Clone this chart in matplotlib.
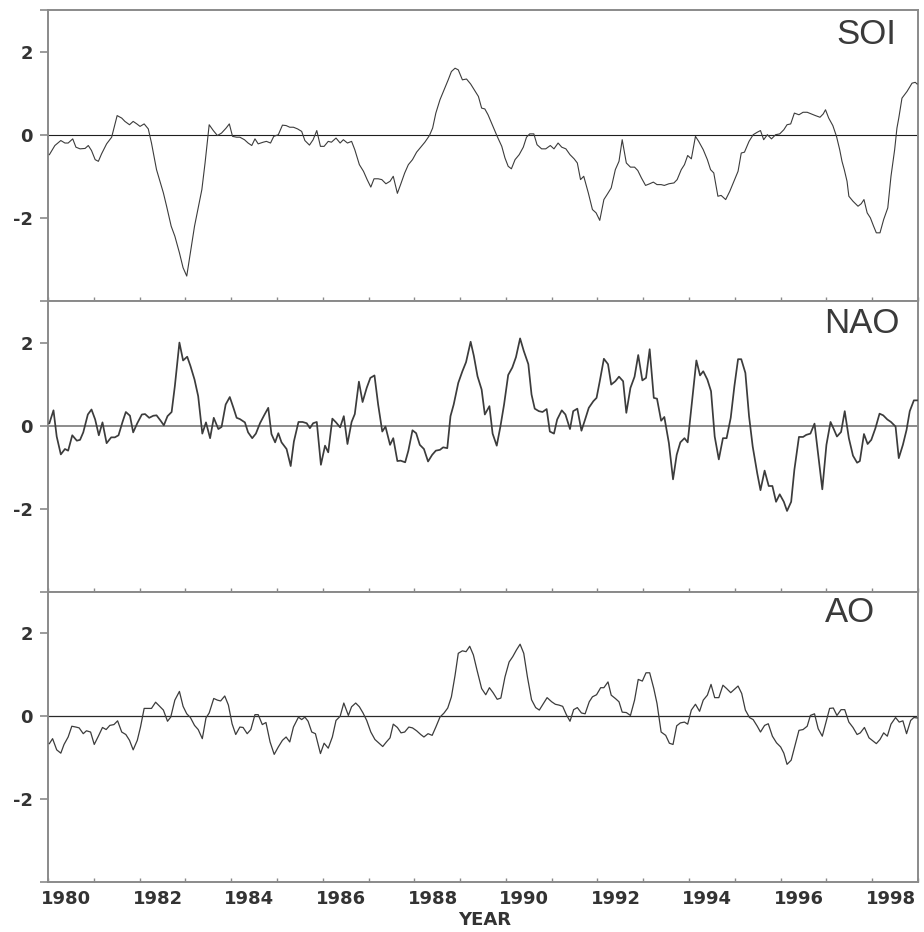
import matplotlib
matplotlib.use('Agg')
import matplotlib.pyplot as plt
import numpy as np

# ---- data (decimal year, index value) ----
SOI_YEAR = [
    1980.03, 1980.15, 1980.28, 1980.37, 1980.44, 1980.54, 1980.61, 1980.70, 1980.81, 1980.88,
    1980.95, 1981.03, 1981.10, 1981.17, 1981.28, 1981.39, 1981.46, 1981.51, 1981.61, 1981.68,
    1981.78, 1981.86, 1981.94, 1982.01, 1982.10, 1982.19, 1982.26, 1982.37, 1982.52, 1982.59,
    1982.69, 1982.77, 1982.87, 1982.95, 1983.03, 1983.11, 1983.20, 1983.28, 1983.36, 1983.43,
    1983.52, 1983.61, 1983.70, 1983.79, 1983.89, 1983.96, 1984.03, 1984.12, 1984.19, 1984.29,
    1984.37, 1984.45, 1984.52, 1984.59, 1984.70, 1984.77, 1984.86, 1984.93, 1985.03, 1985.12,
    1985.20, 1985.28, 1985.36, 1985.45, 1985.54, 1985.61, 1985.71, 1985.79, 1985.87, 1985.95,
    1986.03, 1986.12, 1986.19, 1986.29, 1986.38, 1986.45, 1986.54, 1986.63, 1986.70, 1986.80,
    1986.89, 1986.97, 1987.05, 1987.12, 1987.21, 1987.29, 1987.38, 1987.47, 1987.54, 1987.63,
    1987.70, 1987.79, 1987.87, 1987.96, 1988.05, 1988.14, 1988.23, 1988.33, 1988.40, 1988.47,
    1988.56, 1988.65, 1988.74, 1988.81, 1988.89, 1988.96, 1989.05, 1989.14, 1989.23, 1989.32,
    1989.40, 1989.47, 1989.54, 1989.61, 1989.71, 1989.81, 1989.91, 1989.98, 1990.05, 1990.12,
    1990.20, 1990.29, 1990.38, 1990.45, 1990.52, 1990.61, 1990.68, 1990.78, 1990.87, 1990.97,
    1991.05, 1991.14, 1991.22, 1991.31, 1991.40, 1991.49, 1991.56, 1991.63, 1991.70, 1991.80,
    1991.89, 1991.97, 1992.05, 1992.14, 1992.21, 1992.30, 1992.39, 1992.47, 1992.54, 1992.63,
    1992.72, 1992.81, 1992.88, 1992.96, 1993.05, 1993.14, 1993.22, 1993.30, 1993.39, 1993.46,
    1993.56, 1993.67, 1993.74, 1993.83, 1993.90, 1993.97, 1994.05, 1994.14, 1994.21, 1994.31,
    1994.40, 1994.47, 1994.54, 1994.63, 1994.70, 1994.80, 1994.89, 1994.98, 1995.07, 1995.14,
    1995.21, 1995.31, 1995.40, 1995.49, 1995.56, 1995.63, 1995.71, 1995.80, 1995.89, 1995.98,
    1996.07, 1996.14, 1996.22, 1996.30, 1996.40, 1996.49, 1996.58, 1996.67, 1996.76, 1996.86,
    1996.93, 1996.98, 1997.05, 1997.14, 1997.22, 1997.29, 1997.34, 1997.39, 1997.45, 1997.49,
    1997.58, 1997.69, 1997.76, 1997.82, 1997.89, 1997.96, 1998.03, 1998.09, 1998.17, 1998.25,
    1998.34, 1998.41, 1998.49, 1998.54, 1998.58, 1998.65, 1998.76, 1998.87, 1998.94, 1998.98,
]
SOI_VAL = [
    -0.48, -0.26, -0.14, -0.20, -0.20, -0.10, -0.30, -0.34, -0.33, -0.26,
    -0.38, -0.60, -0.64, -0.46, -0.22, -0.06, 0.24, 0.46, 0.40, 0.32,
    0.24, 0.32, 0.26, 0.20, 0.26, 0.14, -0.20, -0.84, -1.40, -1.72,
    -2.20, -2.44, -2.84, -3.20, -3.40, -2.84, -2.20, -1.76, -1.32, -0.68,
    0.24, 0.10, -0.02, 0.04, 0.16, 0.26, -0.04, -0.06, -0.06, -0.12,
    -0.20, -0.26, -0.10, -0.22, -0.18, -0.16, -0.20, -0.04, 0.00, 0.23,
    0.22, 0.18, 0.18, 0.14, 0.08, -0.14, -0.25, -0.12, 0.10, -0.28,
    -0.28, -0.16, -0.18, -0.08, -0.20, -0.12, -0.20, -0.16, -0.36, -0.72,
    -0.88, -1.08, -1.26, -1.06, -1.06, -1.08, -1.18, -1.12, -1.00, -1.41,
    -1.20, -0.92, -0.72, -0.60, -0.42, -0.30, -0.18, -0.02, 0.16, 0.52,
    0.84, 1.08, 1.32, 1.52, 1.60, 1.56, 1.32, 1.34, 1.22, 1.06,
    0.92, 0.64, 0.62, 0.48, 0.22, -0.04, -0.28, -0.56, -0.76, -0.82,
    -0.60, -0.48, -0.30, -0.06, 0.02, 0.02, -0.24, -0.34, -0.34, -0.26,
    -0.34, -0.20, -0.30, -0.34, -0.48, -0.58, -0.68, -1.08, -1.00, -1.40,
    -1.80, -1.88, -2.06, -1.56, -1.44, -1.28, -0.84, -0.64, -0.12, -0.68,
    -0.78, -0.78, -0.86, -1.04, -1.22, -1.18, -1.14, -1.20, -1.20, -1.22,
    -1.18, -1.16, -1.08, -0.84, -0.72, -0.50, -0.58, -0.04, -0.16, -0.36,
    -0.60, -0.84, -0.92, -1.48, -1.46, -1.56, -1.36, -1.12, -0.88, -0.44,
    -0.42, -0.16, 0.00, 0.06, 0.10, -0.12, 0.00, -0.10, 0.00, 0.02,
    0.12, 0.24, 0.26, 0.52, 0.48, 0.54, 0.54, 0.50, 0.46, 0.42,
    0.50, 0.60, 0.40, 0.22, -0.04, -0.36, -0.64, -0.84, -1.12, -1.48,
    -1.60, -1.72, -1.66, -1.56, -1.88, -2.00, -2.20, -2.36, -2.36, -2.04,
    -1.76, -1.00, -0.36, 0.16, 0.40, 0.88, 1.04, 1.24, 1.26, 1.22,
]

NAO_YEAR = [
    1980.03, 1980.12, 1980.19, 1980.28, 1980.37, 1980.44, 1980.53, 1980.63, 1980.70, 1980.77,
    1980.87, 1980.95, 1981.03, 1981.11, 1981.19, 1981.28, 1981.38, 1981.46, 1981.54, 1981.63,
    1981.70, 1981.79, 1981.86, 1981.95, 1982.05, 1982.12, 1982.21, 1982.30, 1982.37, 1982.46,
    1982.53, 1982.61, 1982.70, 1982.77, 1982.87, 1982.95, 1983.04, 1983.11, 1983.20, 1983.28,
    1983.37, 1983.45, 1983.54, 1983.62, 1983.72, 1983.79, 1983.88, 1983.97, 1984.05, 1984.12,
    1984.19, 1984.30, 1984.37, 1984.46, 1984.54, 1984.63, 1984.72, 1984.81, 1984.88, 1984.96,
    1985.03, 1985.10, 1985.21, 1985.30, 1985.37, 1985.47, 1985.56, 1985.65, 1985.72, 1985.79,
    1985.87, 1985.96, 1986.05, 1986.12, 1986.21, 1986.29, 1986.38, 1986.46, 1986.54, 1986.63,
    1986.70, 1986.79, 1986.87, 1986.96, 1987.04, 1987.13, 1987.21, 1987.30, 1987.37, 1987.47,
    1987.54, 1987.63, 1987.70, 1987.80, 1987.87, 1987.96, 1988.04, 1988.12, 1988.21, 1988.30,
    1988.39, 1988.47, 1988.56, 1988.63, 1988.72, 1988.79, 1988.86, 1988.96, 1989.05, 1989.13,
    1989.23, 1989.30, 1989.38, 1989.47, 1989.54, 1989.64, 1989.71, 1989.80, 1989.88, 1989.96,
    1990.05, 1990.14, 1990.22, 1990.31, 1990.39, 1990.49, 1990.56, 1990.63, 1990.72, 1990.80,
    1990.89, 1990.96, 1991.05, 1991.12, 1991.22, 1991.30, 1991.40, 1991.47, 1991.56, 1991.65,
    1991.73, 1991.81, 1991.91, 1991.98, 1992.05, 1992.14, 1992.23, 1992.30, 1992.39, 1992.47,
    1992.56, 1992.63, 1992.72, 1992.81, 1992.89, 1992.98, 1993.06, 1993.14, 1993.23, 1993.30,
    1993.39, 1993.46, 1993.56, 1993.65, 1993.73, 1993.81, 1993.90, 1993.97, 1994.07, 1994.16,
    1994.24, 1994.31, 1994.40, 1994.48, 1994.56, 1994.65, 1994.74, 1994.82, 1994.91, 1994.99,
    1995.07, 1995.14, 1995.23, 1995.31, 1995.39, 1995.49, 1995.56, 1995.65, 1995.74, 1995.82,
    1995.90, 1995.98, 1996.07, 1996.14, 1996.23, 1996.30, 1996.40, 1996.49, 1996.56, 1996.65,
    1996.74, 1996.82, 1996.91, 1997.00, 1997.09, 1997.16, 1997.23, 1997.32, 1997.40, 1997.49,
    1997.58, 1997.67, 1997.73, 1997.82, 1997.90, 1997.98, 1998.07, 1998.16, 1998.24, 1998.33,
    1998.41, 1998.51, 1998.58, 1998.67, 1998.75, 1998.82, 1998.91, 1998.98,
]
NAO_VAL = [
    0.06, 0.37, -0.26, -0.69, -0.56, -0.60, -0.23, -0.36, -0.34, -0.16,
    0.27, 0.39, 0.15, -0.23, 0.08, -0.42, -0.28, -0.28, -0.23, 0.10,
    0.33, 0.24, -0.16, 0.06, 0.27, 0.28, 0.19, 0.24, 0.25, 0.12,
    0.01, 0.23, 0.33, 0.95, 2.00, 1.57, 1.66, 1.44, 1.11, 0.71,
    -0.19, 0.08, -0.30, 0.19, -0.08, -0.03, 0.51, 0.69, 0.43, 0.19,
    0.16, 0.08, -0.16, -0.30, -0.19, 0.06, 0.25, 0.43, -0.20, -0.40,
    -0.18, -0.40, -0.56, -0.97, -0.38, 0.09, 0.09, 0.06, -0.06, 0.06,
    0.09, -0.94, -0.48, -0.64, 0.17, 0.08, -0.04, 0.23, -0.44, 0.09,
    0.28, 1.06, 0.57, 0.91, 1.15, 1.21, 0.51, -0.14, -0.02, -0.46,
    -0.30, -0.85, -0.84, -0.88, -0.60, -0.11, -0.18, -0.46, -0.56, -0.86,
    -0.70, -0.60, -0.58, -0.52, -0.54, 0.23, 0.51, 1.03, 1.31, 1.53,
    2.02, 1.68, 1.19, 0.87, 0.27, 0.47, -0.19, -0.48, -0.02, 0.51,
    1.22, 1.40, 1.65, 2.10, 1.80, 1.48, 0.75, 0.41, 0.35, 0.33,
    0.40, -0.14, -0.19, 0.15, 0.37, 0.27, -0.08, 0.35, 0.41, -0.12,
    0.15, 0.43, 0.59, 0.67, 1.07, 1.61, 1.48, 0.99, 1.07, 1.18,
    1.07, 0.31, 0.91, 1.18, 1.70, 1.09, 1.15, 1.84, 0.67, 0.65,
    0.12, 0.21, -0.42, -1.29, -0.70, -0.40, -0.30, -0.40, 0.63, 1.57,
    1.21, 1.31, 1.11, 0.83, -0.26, -0.81, -0.30, -0.30, 0.19, 0.95,
    1.60, 1.60, 1.27, 0.23, -0.50, -1.15, -1.55, -1.08, -1.45, -1.45,
    -1.83, -1.65, -1.83, -2.05, -1.83, -1.06, -0.27, -0.27, -0.22, -0.19,
    0.05, -0.70, -1.53, -0.46, 0.09, -0.08, -0.26, -0.15, 0.35, -0.30,
    -0.72, -0.89, -0.85, -0.20, -0.44, -0.34, -0.06, 0.29, 0.25, 0.15,
    0.09, -0.02, -0.78, -0.46, -0.10, 0.35, 0.61, 0.61,
]

AO_YEAR = [
    1980.03, 1980.10, 1980.19, 1980.28, 1980.35, 1980.44, 1980.52, 1980.61, 1980.68, 1980.77,
    1980.84, 1980.93, 1981.01, 1981.10, 1981.19, 1981.27, 1981.35, 1981.44, 1981.52, 1981.61,
    1981.70, 1981.78, 1981.86, 1981.95, 1982.02, 1982.10, 1982.19, 1982.26, 1982.35, 1982.43,
    1982.52, 1982.61, 1982.68, 1982.77, 1982.87, 1982.95, 1983.03, 1983.11, 1983.20, 1983.28,
    1983.37, 1983.45, 1983.52, 1983.62, 1983.70, 1983.77, 1983.86, 1983.94, 1984.02, 1984.10,
    1984.19, 1984.26, 1984.35, 1984.43, 1984.52, 1984.59, 1984.68, 1984.76, 1984.85, 1984.94,
    1985.03, 1985.12, 1985.20, 1985.28, 1985.36, 1985.47, 1985.54, 1985.61, 1985.68, 1985.76,
    1985.84, 1985.95, 1986.03, 1986.12, 1986.21, 1986.29, 1986.38, 1986.46, 1986.56, 1986.63,
    1986.72, 1986.80, 1986.88, 1986.96, 1987.05, 1987.14, 1987.23, 1987.31, 1987.39, 1987.47,
    1987.54, 1987.63, 1987.71, 1987.79, 1987.88, 1987.96, 1988.05, 1988.14, 1988.21, 1988.30,
    1988.39, 1988.47, 1988.56, 1988.65, 1988.73, 1988.81, 1988.89, 1988.96, 1989.05, 1989.13,
    1989.21, 1989.29, 1989.37, 1989.47, 1989.56, 1989.64, 1989.72, 1989.81, 1989.89, 1989.98,
    1990.07, 1990.15, 1990.23, 1990.31, 1990.39, 1990.47, 1990.56, 1990.65, 1990.73, 1990.82,
    1990.90, 1991.00, 1991.08, 1991.16, 1991.24, 1991.32, 1991.40, 1991.48, 1991.56, 1991.65,
    1991.73, 1991.82, 1991.89, 1991.98, 1992.07, 1992.14, 1992.23, 1992.30, 1992.39, 1992.47,
    1992.54, 1992.63, 1992.72, 1992.81, 1992.89, 1992.98, 1993.06, 1993.14, 1993.23, 1993.30,
    1993.39, 1993.49, 1993.57, 1993.65, 1993.73, 1993.81, 1993.90, 1993.97, 1994.05, 1994.14,
    1994.23, 1994.31, 1994.40, 1994.48, 1994.56, 1994.65, 1994.74, 1994.82, 1994.91, 1994.99,
    1995.07, 1995.15, 1995.23, 1995.32, 1995.40, 1995.49, 1995.56, 1995.65, 1995.73, 1995.82,
    1995.91, 1996.00, 1996.07, 1996.14, 1996.23, 1996.31, 1996.40, 1996.49, 1996.58, 1996.65,
    1996.74, 1996.82, 1996.91, 1996.99, 1997.07, 1997.15, 1997.23, 1997.32, 1997.40, 1997.49,
    1997.58, 1997.67, 1997.74, 1997.83, 1997.93, 1998.00, 1998.09, 1998.17, 1998.25, 1998.33,
    1998.41, 1998.51, 1998.59, 1998.67, 1998.75, 1998.84, 1998.91, 1998.98,
]
AO_VAL = [
    -0.66, -0.54, -0.81, -0.89, -0.68, -0.50, -0.24, -0.26, -0.28, -0.42,
    -0.35, -0.38, -0.68, -0.48, -0.27, -0.32, -0.22, -0.20, -0.11, -0.38,
    -0.44, -0.58, -0.81, -0.58, -0.26, 0.19, 0.19, 0.19, 0.34, 0.25,
    0.15, -0.12, -0.02, 0.39, 0.60, 0.24, 0.06, -0.03, -0.22, -0.32,
    -0.54, -0.04, 0.08, 0.43, 0.39, 0.37, 0.49, 0.27, -0.18, -0.44,
    -0.26, -0.27, -0.42, -0.32, 0.04, 0.04, -0.20, -0.15, -0.62, -0.92,
    -0.74, -0.58, -0.50, -0.62, -0.26, -0.02, -0.08, -0.02, -0.12, -0.38,
    -0.42, -0.90, -0.65, -0.77, -0.50, -0.10, 0.00, 0.32, 0.02, 0.23,
    0.32, 0.23, 0.08, -0.10, -0.38, -0.56, -0.65, -0.73, -0.62, -0.52,
    -0.19, -0.27, -0.40, -0.38, -0.26, -0.28, -0.35, -0.44, -0.50, -0.42,
    -0.46, -0.26, -0.02, 0.08, 0.20, 0.47, 0.99, 1.52, 1.58, 1.56,
    1.69, 1.48, 1.11, 0.67, 0.52, 0.69, 0.57, 0.41, 0.44, 0.95,
    1.31, 1.44, 1.60, 1.74, 1.52, 0.95, 0.40, 0.21, 0.15, 0.31,
    0.45, 0.35, 0.29, 0.27, 0.24, 0.04, -0.12, 0.16, 0.21, 0.08,
    0.06, 0.35, 0.47, 0.52, 0.69, 0.69, 0.83, 0.51, 0.43, 0.35,
    0.10, 0.09, 0.02, 0.39, 0.89, 0.85, 1.05, 1.05, 0.67, 0.31,
    -0.38, -0.46, -0.65, -0.68, -0.23, -0.16, -0.14, -0.19, 0.15, 0.29,
    0.12, 0.39, 0.51, 0.77, 0.45, 0.45, 0.75, 0.67, 0.57, 0.65,
    0.73, 0.55, 0.15, -0.03, -0.08, -0.24, -0.38, -0.22, -0.18, -0.48,
    -0.64, -0.74, -0.89, -1.16, -1.06, -0.72, -0.34, -0.32, -0.24, 0.02,
    0.06, -0.30, -0.48, -0.14, 0.19, 0.20, 0.02, 0.16, 0.16, -0.14,
    -0.27, -0.44, -0.40, -0.27, -0.52, -0.58, -0.66, -0.56, -0.40, -0.48,
    -0.19, -0.03, -0.14, -0.11, -0.42, -0.10, -0.03, -0.04,
]

PANEL_NAMES = ['SOI', 'NAO', 'AO']
YEAR_LABELS = list(range(1980, 1999, 2))

# ---- layout (pixels of the 924x932 output) ----
W, H = 924, 932
LEFT, RIGHT = 48, 918
PANEL_ROWS = [(10, 301), (301, 592), (592, 882)]
NAME_POS = [(866, 35), (862, 323), (850, 612)]
LINE_W = [0.8, 1.25, 0.9]
ZERO_COLOR = ['#1e1e1e', '#8c8c8c', '#2a2a2a']
ZERO_W = [0.8, 1.4, 0.9]
GRAY = '#8a8a8a'
INK = '#3c3c3c'
TICK_FS = 13

fig = plt.figure(figsize=(W / 100, H / 100), dpi=100)

all_series = [(SOI_YEAR, SOI_VAL), (NAO_YEAR, NAO_VAL), (AO_YEAR, AO_VAL)]

for i, (years, vals) in enumerate(all_series):
    top, bot = PANEL_ROWS[i]
    ax = fig.add_axes([LEFT / W, 1 - bot / H, (RIGHT - LEFT) / W, (bot - top) / H])
    ax.plot(years, vals, color=INK, lw=LINE_W[i], zorder=3)
    ax.axhline(0, color=ZERO_COLOR[i], lw=ZERO_W[i], zorder=2)
    ax.set_xlim(1980, 1999)
    ax.set_ylim(-4, 3)

    for sp in ax.spines.values():
        sp.set_color(GRAY)
        sp.set_linewidth(1.4)

    # y axis: outward ticks, bold labels
    yt = [-4, -2, 0, 2] + ([3] if i == 0 else [])
    ax.set_yticks(yt)
    ax.set_yticklabels(['' if v in (-4, 3) else str(v) for v in yt])
    ax.tick_params(axis='y', direction='out', length=6, width=1.2, color=GRAY,
                   pad=5, labelsize=TICK_FS, labelcolor='#333333')
    for lbl in ax.get_yticklabels():
        lbl.set_fontweight('bold')

    # x axis: small inward year ticks on every panel
    ax.set_xticks(np.arange(1980, 2000), minor=True)
    ax.tick_params(axis='x', which='minor', direction='in', length=3, width=1, color=GRAY)
    if i == 2:
        ax.set_xticks([y + 0.4 for y in YEAR_LABELS])
        ax.set_xticklabels([str(y) for y in YEAR_LABELS])
        ax.tick_params(axis='x', which='major', length=0, pad=6,
                       labelsize=TICK_FS, labelcolor='#333333')
        for lbl in ax.get_xticklabels():
            lbl.set_fontweight('bold')
    else:
        ax.set_xticks([])

    fig.text(NAME_POS[i][0] / W, 1 - NAME_POS[i][1] / H, PANEL_NAMES[i],
             ha='center', va='center', fontsize=25, family='Liberation Sans',
             color='#3a3a3a')

fig.text(485 / W, 1 - 920 / H, 'YEAR', ha='center', va='center',
         fontsize=TICK_FS, fontweight='bold', color='#333333')

fig.savefig('out.png', dpi=100)
